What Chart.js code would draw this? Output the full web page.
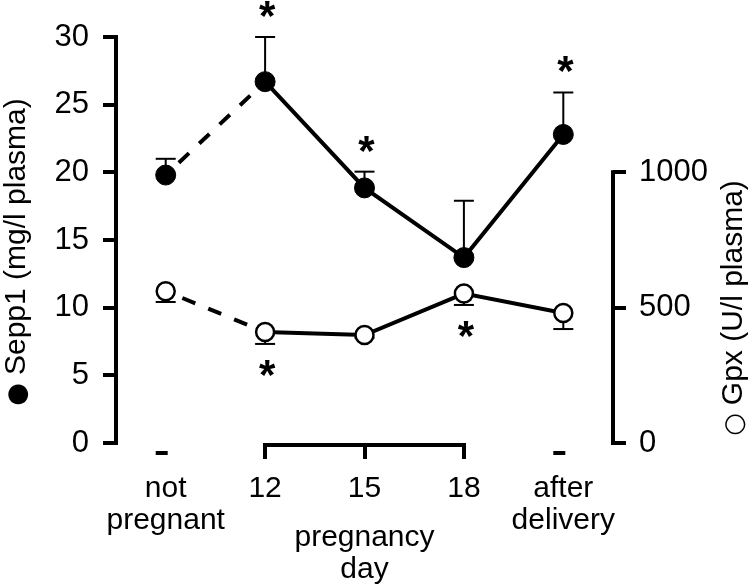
<!DOCTYPE html>
<html>
<head>
<meta charset="utf-8">
<script src="https://cdn.jsdelivr.net/npm/chart.js@4.4.0/dist/chart.umd.min.js"></script>
<style>
  html, body { margin: 0; padding: 0; background: #fff; }
  #wrap { width: 750px; height: 587px; }
</style>
</head>
<body>
<div id="wrap"><canvas id="c" width="750" height="587"></canvas></div>
<script>
// categories along the bottom (multi-line labels as arrays)
const CATEGORIES = [["not", "pregnant"], "12", "15", "18", ["after", "delivery"]];

// Sepp1 (mg/l plasma), filled circles, error bars upward
const SEPP1 = [19.8, 26.7, 18.85, 13.7, 22.8];
const SEPP1_ERR = [1.2, 3.3, 1.2, 4.2, 3.1];
const SEPP1_SIG = [false, true, true, false, true];

// Gpx (U/l plasma), open circles, error bars downward
const GPX = [561, 410, 399, 552, 480];
const GPX_ERR = [40, 44, 10, 42, 59];
const GPX_SIG = [false, true, false, true, false];

const SEPP1_TICKS = [0, 5, 10, 15, 20, 25, 30];
const GPX_TICKS = [0, 500, 1000];
const X_TITLE = ["pregnancy", "day"];
const Y1_SYMBOL = "\u25CF";
const Y1_TITLE = "Sepp1 (mg/l plasma)";
const Y2_SYMBOL = "\u25CB";
const Y2_TITLE = "Gpx (U/l plasma)";

const FONT = '"Liberation Sans", Arial, Helvetica, sans-serif';
const INK = "#000";
const NONE = "rgba(0,0,0,0)";

// first segment (not pregnant -> day 12) is dashed
const dashFirst = (ctx) => (ctx.p0DataIndex === 0 ? [14, 14] : undefined);

function seg(ctx, x1, y1, x2, y2) {
  ctx.beginPath(); ctx.moveTo(x1, y1); ctx.lineTo(x2, y2); ctx.stroke();
}

// vertical title (bottom-to-top) with a bigger marker symbol in front
function vTitle(ctx, symbol, text, cx, cy) {
  ctx.save();
  ctx.translate(cx, cy);
  ctx.rotate(-Math.PI / 2);
  ctx.textAlign = "left";
  ctx.textBaseline = "middle";
  ctx.font = "26px DejaVu Sans, " + FONT;
  const sw = ctx.measureText(symbol).width;
  ctx.font = "30px " + FONT;
  const gap = 8;
  const tw = ctx.measureText(text).width;
  const x0 = -(sw + gap + tw) / 2;
  ctx.fillText(text, x0 + sw + gap, 0);
  ctx.font = "26px DejaVu Sans, " + FONT;
  ctx.fillText(symbol, x0, 1);
  ctx.restore();
}

const extras = {
  id: "extras",
  beforeDatasetsDraw(chart) {
    const { ctx, scales: { x, y, y2 } } = chart;
    ctx.save();
    ctx.strokeStyle = INK;
    ctx.lineWidth = 2;
    SEPP1.forEach((v, i) => {
      const px = x.getPixelForValue(i);
      const top = y.getPixelForValue(v + SEPP1_ERR[i]);
      seg(ctx, px, y.getPixelForValue(v), px, top);
      seg(ctx, px - 10, top, px + 10, top);
    });
    GPX.forEach((v, i) => {
      const px = x.getPixelForValue(i);
      const bot = y2.getPixelForValue(v - GPX_ERR[i]);
      seg(ctx, px, y2.getPixelForValue(v), px, bot);
      seg(ctx, px - 10, bot, px + 10, bot);
    });
    ctx.restore();
  },
  afterDraw(chart) {
    const { ctx, chartArea, scales: { x, y, y2 } } = chart;
    ctx.save();
    ctx.strokeStyle = INK;
    ctx.fillStyle = INK;

    // right axis line, only 0..1000
    ctx.lineWidth = 4;
    const rx = chartArea.right;
    seg(ctx, rx, y2.getPixelForValue(0) + 2, rx, y2.getPixelForValue(1000) - 2);

    // bracket under pregnancy days 12..18
    const by = chartArea.bottom + 2;
    seg(ctx, x.getPixelForValue(1) - 2, by, x.getPixelForValue(3) + 2, by);
    // short dashes under the non-pregnancy groups
    [0, 4].forEach((i) => {
      const px = x.getPixelForValue(i) - 4;
      seg(ctx, px - 6, chartArea.bottom + 10, px + 6, chartArea.bottom + 10);
    });

    // significance asterisks
    ctx.font = "bold 42px " + FONT;
    ctx.textAlign = "center";
    ctx.textBaseline = "alphabetic";
    SEPP1.forEach((v, i) => {
      if (!SEPP1_SIG[i]) return;
      const cy = y.getPixelForValue(v + SEPP1_ERR[i]) - 26;
      ctx.fillText("*", x.getPixelForValue(i) + 2, cy + 19);
    });
    GPX.forEach((v, i) => {
      if (!GPX_SIG[i]) return;
      const cy = y2.getPixelForValue(v - GPX_ERR[i]) + 26;
      ctx.fillText("*", x.getPixelForValue(i) + 2, cy + 19);
    });
    ctx.restore();

    // axis titles, both reading bottom-to-top
    ctx.save();
    ctx.fillStyle = INK;
    vTitle(ctx, Y1_SYMBOL, Y1_TITLE, 17, 252);
    vTitle(ctx, Y2_SYMBOL, Y2_TITLE, 734, 308);
    ctx.restore();
  }
};

const tickFont = { family: FONT, size: 30, lineHeight: 1.07 };
const numFont = { family: FONT, size: 31, lineHeight: 1.07 };

new Chart(document.getElementById("c"), {
  type: "line",
  data: {
    labels: CATEGORIES,
    datasets: [
      {
        label: "Gpx", data: GPX, yAxisID: "y2",
        borderColor: INK, borderWidth: 4, tension: 0,
        pointRadius: 9, pointBorderWidth: 2.5,
        pointBackgroundColor: "#fff", pointBorderColor: INK,
        segment: { borderDash: dashFirst, borderDashOffset: 10 }
      },
      {
        label: "Sepp1", data: SEPP1, yAxisID: "y",
        borderColor: INK, borderWidth: 4, tension: 0,
        pointRadius: 10, pointBorderWidth: 1,
        pointBackgroundColor: INK, pointBorderColor: INK,
        segment: { borderDash: dashFirst, borderDashOffset: 10 }
      }
    ]
  },
  options: {
    responsive: false,
    animation: false,
    layout: { padding: { top: 37, left: 0, right: 0, bottom: 0 } },
    plugins: { legend: { display: false }, tooltip: { enabled: false } },
    scales: {
      x: {
        type: "category",
        offset: true,
        border: { display: false },
        grid: {
          offset: false, drawOnChartArea: false, tickLength: 16, lineWidth: 4,
          color: (c) => (c.index >= 1 && c.index <= 3 ? INK : NONE)
        },
        ticks: { color: INK, font: tickFont, padding: 14, maxRotation: 0, autoSkip: false },
        title: { display: true, text: X_TITLE, color: INK, font: tickFont, padding: { top: 0, bottom: 1 } },
        afterFit: (s) => { s.height = 144; }
      },
      y: {
        position: "left",
        min: SEPP1_TICKS[0], max: SEPP1_TICKS[SEPP1_TICKS.length - 1],
        border: { display: true, color: INK, width: 4 },
        grid: { drawOnChartArea: false, tickLength: 13, lineWidth: 4, color: INK },
        ticks: { stepSize: 5, color: INK, font: numFont, padding: 14 },
        afterBuildTicks: (s) => { s.ticks = SEPP1_TICKS.map((v) => ({ value: v })); },
        afterFit: (s) => { s.width = 116; }
      },
      y2: {
        position: "right",
        min: 0, max: 1500,
        border: { display: false },
        grid: {
          drawOnChartArea: false, tickLength: 13, lineWidth: 4,
          color: (c) => (GPX_TICKS.includes(c.tick.value) ? INK : NONE)
        },
        ticks: {
          stepSize: 500, color: INK, font: numFont, padding: 13,
          callback: (v) => (GPX_TICKS.includes(v) ? String(v) : "")
        },
        afterFit: (s) => { s.width = 137; }
      }
    }
  },
  plugins: [extras]
});
</script>
</body>
</html>
